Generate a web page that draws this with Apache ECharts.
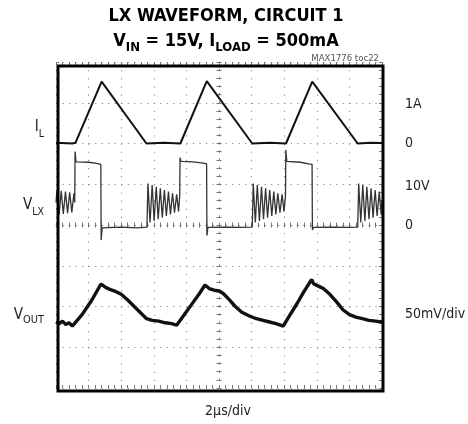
<!DOCTYPE html>
<html>
<head>
<meta charset="utf-8">
<script src="https://cdn.jsdelivr.net/npm/echarts@6.0.0/dist/echarts.min.js"></script>
<style>
  html, body { margin: 0; padding: 0; background: #fff; }
  #chart { width: 468px; height: 424px; }
</style>
</head>
<body>
<div id="chart"></div>
<script>
// ---- data (time in µs relative to screen centre, 2 µs/div) ----
const ilTime = [-10, -9.0, -8.80, -7.20, -4.45, -3.4, -2.37, -0.75, 2.04, 3.1, 4.11, 5.72, 8.51, 9.3, 10];
const ilAmps = [0.02, 0.0, 0.02, 1.52, 0.0, 0.02, 0.0, 1.53, 0.0, 0.02, 0.0, 1.52, 0.0, 0.02, 0.01];

const vlxTime = [
  -10.0, -9.94, -9.81, -9.68, -9.55, -9.42, -9.29, -9.16, -9.03, -8.90, -8.85,
  -8.83, -8.77, -8.0, -7.5, -7.25, -7.23, -7.17, -6.0, -5.0,
  -4.42, -4.36, -4.23, -4.10, -3.98, -3.85, -3.73, -3.60, -3.48, -3.35, -3.23, -3.10, -2.98, -2.85, -2.73, -2.60, -2.48, -2.41,
  -2.39, -2.33, -1.6, -0.95, -0.76, -0.74, -0.68, 0.5, 1.3,
  2.04, 2.10, 2.23, 2.35, 2.48, 2.61, 2.73, 2.86, 2.98, 3.11, 3.24, 3.36, 3.49, 3.61, 3.74, 3.87, 3.99, 4.08,
  4.10, 4.16, 5.0, 5.5, 5.71, 5.73, 5.79, 7.0, 8.0,
  8.51, 8.57, 8.70, 8.82, 8.95, 9.07, 9.20, 9.33, 9.45, 9.58, 9.70, 9.83, 9.95, 10.0
];
const vlxVolts = [
  5.5, 8.6, 2.5, 8.4, 2.7, 8.2, 2.9, 8.0, 3.1, 7.8, 5.5,
  18.0, 15.5, 15.4, 15.1, 14.9, -3.7, -0.7, -0.5, -0.7,
  -0.5, 10.2, 0.6, 9.8, 1.0, 9.4, 1.4, 9.0, 1.8, 8.6, 2.2, 8.2, 2.6, 7.8, 3.0, 7.5, 3.3, 7.3,
  16.5, 15.6, 15.5, 15.2, 15.0, -2.6, -0.6, -0.5, -0.6,
  -0.5, 10.2, 0.6, 9.8, 1.0, 9.4, 1.4, 9.0, 1.8, 8.6, 2.2, 8.2, 2.6, 7.8, 3.0, 7.5, 3.3, 7.2,
  18.4, 15.6, 15.4, 15.0, 14.9, -1.2, -0.6, -0.5, -0.6,
  -0.5, 10.2, 0.6, 9.8, 1.0, 9.4, 1.4, 9.0, 1.8, 8.6, 2.2, 8.2, 2.5, 6.0
];

const voutTime = [
  -10.0, -9.8, -9.6, -9.4, -9.2, -9.0, -8.9,
  -8.4, -7.8, -7.24,
  -7.0, -6.7, -6.4, -6.0, -5.6, -5.2, -4.8, -4.44, -4.1, -3.7, -3.3, -2.9, -2.6,
  -2.2, -1.7, -1.2, -0.86,
  -0.6, -0.3, 0.0, 0.26, 0.6, 1.0, 1.4, 1.9, 2.3, 2.7, 3.1, 3.5, 3.94,
  4.3, 4.8, 5.2, 5.58, 5.69, 5.8,
  6.1, 6.4, 6.8, 7.2, 7.6, 8.0, 8.4, 8.8, 9.2, 9.6, 10.0
];
const voutMilliVolts = [
  -19, -21, -18, -22, -20, -24, -23,
  -10, 8, 27.6,
  24, 21, 19, 15, 8, 0, -8, -15, -17, -18, -20, -21, -23,
  -12, 2, 16, 26.4,
  22, 20, 19, 16, 9, 0, -7, -12, -15, -17, -19, -21, -24,
  -12, 4, 18, 30, 33, 28,
  25, 22, 15, 6, -4, -10, -13, -15, -17, -18, -19
];

// channel annotations (positions in screen divisions from centre)
const rightLabelDivs = [2.95, 2, 0.95, 0, -2.2];
const rightLabelTexts = ['1A', '0', '10V', '0', '50mV/div'];
const leftLabelDivs = [2.4, 0.5, -2.2];
const leftLabelTexts = ['{m|I}{s|L}', '{m|V}{s|LX}', '{m|V}{c|OUT}'];

const titleLine1 = 'LX WAVEFORM, CIRCUIT 1';
const tocText = 'MAX1776 toc22';
const timeScaleText = '2\u03bcs/div';

// ---- chart ----
const FONT = "'Liberation Sans Narrow', 'Arial Narrow', 'DejaVu Sans Condensed', 'Liberation Sans', sans-serif";
const zip = (a, b) => a.map((v, i) => [v, b[i]]);
const lookup = (vals, texts) => (v) => {
  for (let i = 0; i < vals.length; i++) if (Math.abs(vals[i] - v) < 1e-6) return texts[i];
  return '';
};

const dotGray = '#8a8a8a';
const tickStyle = { color: '#777', width: 1 };

function centreX(inside) {
  return {
    type: 'value', min: -10, max: 10, interval: 2, position: 'bottom',
    axisLine: { show: inside, onZero: true, onZeroAxisIndex: 0, lineStyle: { color: dotGray, width: 1.1, type: [1.2, 5.32] } },
    axisTick: { show: true, inside: inside, length: 2.5, lineStyle: tickStyle },
    minorTick: { show: true, splitNumber: 5, length: 2.5, lineStyle: tickStyle },
    axisLabel: { show: false },
    splitLine: { show: inside, lineStyle: { color: dotGray, width: 1.1, type: [1.2, 6.95] } }
  };
}
function edgeX(pos, extra) {
  return Object.assign({
    type: 'value', min: -10, max: 10, interval: 2, position: pos,
    axisLine: { show: false, onZero: false },
    axisTick: { show: true, inside: true, length: 3, lineStyle: tickStyle },
    minorTick: { show: true, splitNumber: 5, length: 3, lineStyle: tickStyle },
    axisLabel: { show: false },
    splitLine: { show: false }
  }, extra || {});
}
function centreY(inside) {
  return {
    type: 'value', min: -4, max: 4, interval: 1, position: 'left',
    axisLine: { show: inside, onZero: true, onZeroAxisIndex: 0, lineStyle: { color: dotGray, width: 1.1, type: [1.2, 6.95] } },
    axisTick: { show: true, inside: inside, length: 2.5, lineStyle: tickStyle },
    minorTick: { show: true, splitNumber: 5, length: 2.5, lineStyle: tickStyle },
    axisLabel: { show: false },
    splitLine: { show: inside, lineStyle: { color: dotGray, width: 1.1, type: [1.2, 5.32] } }
  };
}
function edgeY(pos, label) {
  return {
    type: 'value', min: -4, max: 4, interval: 1, position: pos,
    axisLine: { show: false, onZero: false },
    axisTick: { show: true, inside: true, length: 3, lineStyle: tickStyle },
    minorTick: { show: true, splitNumber: 5, length: 3, lineStyle: tickStyle },
    axisLabel: label,
    splitLine: { show: false }
  };
}

const chart = echarts.init(document.getElementById('chart'), null, { renderer: 'canvas' });
chart.setOption({
  animation: false,
  backgroundColor: '#fff',
  title: [
    {
      text: '{a|' + titleLine1 + '}\n{a|V}{b|IN}{a| = 15V, I}{b|LOAD}{a| = 500mA}',
      left: 221, top: -1, textAlign: 'center',
      textStyle: {
        rich: {
          a: { fontFamily: FONT, fontSize: 18, fontWeight: 'bold', color: '#000', lineHeight: 25 },
          b: { fontFamily: FONT, fontSize: 13, fontWeight: 'bold', color: '#000', lineHeight: 25, verticalAlign: 'bottom' }
        }
      }
    },
    {
      text: tocText, right: 84, top: 49,
      textStyle: { fontFamily: FONT, fontSize: 9.5, fontWeight: 'normal', color: '#555' }
    }
  ],
  grid: { left: 56, right: 86, top: 62, bottom: 36, show: false, containLabel: false, outerBoundsMode: 'none' },
  xAxis: [
    centreX(true),
    centreX(false),
    edgeX('top'),
    edgeX('bottom', {
      name: timeScaleText, nameLocation: 'middle', nameGap: 16,
      nameTextStyle: { fontFamily: FONT, fontSize: 14, color: '#222', padding: [0, 0, 0, 18] }
    })
  ],
  yAxis: [
    centreY(true),
    centreY(false),
    edgeY('left', {
      show: true, margin: 12, customValues: leftLabelDivs,
      formatter: lookup(leftLabelDivs, leftLabelTexts),
      rich: {
        m: { fontFamily: FONT, fontSize: 15, color: '#222', lineHeight: 22 },
        s: { fontFamily: FONT, fontSize: 10.5, color: '#222', lineHeight: 26, verticalAlign: 'bottom' },
        c: { fontFamily: FONT, fontSize: 11, color: '#222', lineHeight: 22, verticalAlign: 'bottom' }
      }
    }),
    edgeY('right', {
      show: true, margin: 23, customValues: rightLabelDivs,
      formatter: lookup(rightLabelDivs, rightLabelTexts),
      fontFamily: FONT, fontSize: 14, color: '#222'
    }),
    { type: 'value', min: -6, max: 2, show: false },      // I_L, 1A/div
    { type: 'value', min: -40, max: 40, show: false },    // V_LX, 10V/div
    { type: 'value', min: -100, max: 300, show: false }   // V_OUT ripple, 50mV/div
  ],
  graphic: [
    { type: 'rect', z: 100, shape: { x: 58, y: 66, width: 325, height: 325 },
      style: { fill: null, stroke: '#000', lineWidth: 3 } }
  ],
  series: [
    { name: 'IL', type: 'line', xAxisIndex: 0, yAxisIndex: 4, data: zip(ilTime, ilAmps),
      showSymbol: false, lineStyle: { color: '#111', width: 2 }, z: 5 },
    { name: 'VLX', type: 'line', xAxisIndex: 0, yAxisIndex: 5, data: zip(vlxTime, vlxVolts),
      showSymbol: false, lineStyle: { color: '#333', width: 1.3 }, z: 5 },
    { name: 'VOUT', type: 'line', xAxisIndex: 0, yAxisIndex: 6, data: zip(voutTime, voutMilliVolts),
      showSymbol: false, lineStyle: { color: '#111', width: 3.4 }, z: 5 }
  ]
});
</script>
</body>
</html>
